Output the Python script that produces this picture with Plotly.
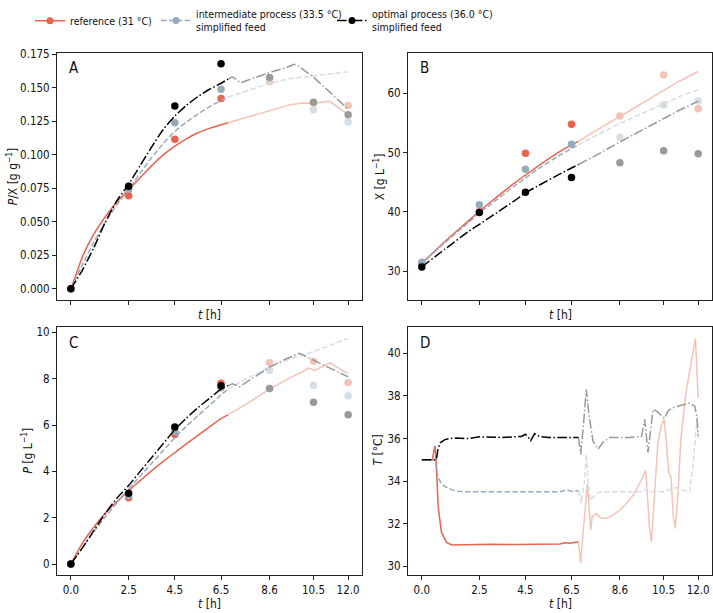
import plotly.graph_objects as go

# ---------------- data ----------------
t_samples = [0.0, 2.5, 4.5, 6.5, 8.6, 10.5, 12.0]
tick_vals = [0.0, 2.5, 4.5, 6.5, 8.6, 10.5, 12.0]
tick_text = ["0.0", "2.5", "4.5", "6.5", "8.6", "10.5", "12.0"]
t_split = 6.8          # end of the validated horizon (later part drawn faded)
n_bright = 4           # first four samples drawn bright

# Panel A: P/X measurements
pa_ref = [0.0, 0.0694, 0.1117, 0.142, 0.1546, 0.139, 0.1369]
pa_int = [0.0, 0.0743, 0.124, 0.149, 0.157, 0.1337, 0.1246]
pa_opt = [0.0, 0.0765, 0.1364, 0.168, 0.1578, 0.1393, 0.130]
# Panel B: X measurements
pb_ref = [31.3, 40.0, 49.9, 54.8, 56.2, 63.1, 57.4]
pb_int = [31.5, 41.2, 47.2, 51.4, 52.6, 58.1, 58.7]
pb_opt = [30.7, 39.9, 43.3, 45.8, 48.3, 50.3, 49.8]
# Panel C: P measurements
pc_ref = [0.0, 2.86, 5.59, 7.80, 8.69, 8.75, 7.84]
pc_int = [0.0, 2.95, 5.73, 7.61, 8.36, 7.72, 7.27]
pc_opt = [0.0, 3.06, 5.92, 7.70, 7.58, 6.98, 6.44]

# Panel A model curves
a_ref_t = [0, 0.25, 0.5, 1.0, 1.5, 2.0, 2.5, 3.0, 3.5, 4.0, 4.5, 5.0, 5.5, 6.0, 6.5, 6.8, 7.5, 8.6, 9.5, 10.0, 10.5, 11.2, 12.0]
a_ref = [0, 0.012, 0.024, 0.041, 0.054, 0.065, 0.074, 0.083, 0.092, 0.100, 0.1065, 0.112, 0.1165, 0.1198, 0.1225, 0.124, 0.1275, 0.1335, 0.1375, 0.1388, 0.1385, 0.140, 0.130]
a_int_t = [0, 0.5, 1, 1.5, 2, 2.5, 3, 3.5, 4, 4.5, 5, 5.5, 6, 6.5, 6.8, 7.5, 8.6, 9.5, 10.5, 11.2, 12]
a_int = [0, 0.018, 0.035, 0.050, 0.063, 0.074, 0.0865, 0.098, 0.1085, 0.1175, 0.1245, 0.1305, 0.136, 0.1405, 0.143, 0.147, 0.1535, 0.157, 0.159, 0.1605, 0.162]
a_opt_t = [0, 0.5, 1, 1.5, 2, 2.5, 3, 3.5, 4, 4.5, 5, 5.5, 6, 6.5, 6.8, 7.0, 7.35, 8.0, 8.6, 9.3, 9.65, 9.85, 10.5, 11.2, 12.0]
a_opt = [0, 0.014, 0.031, 0.050, 0.066, 0.078, 0.092, 0.106, 0.119, 0.129, 0.137, 0.1435, 0.149, 0.1535, 0.1565, 0.1583, 0.1539, 0.158, 0.1615, 0.165, 0.1676, 0.1664, 0.158, 0.147, 0.134]

# Panel B model curves
b_t = [0, 1, 2, 2.5, 3, 4, 4.5, 5, 6, 6.5, 6.8, 7.5, 8.6, 9.5, 10.5, 11.2, 12]
b_ref = [31.3, 35.0, 38.4, 40.1, 41.7, 44.8, 46.2, 47.6, 50.2, 51.3, 51.9, 53.6, 56.1, 58.2, 60.6, 62.1, 63.7]
b_int = [31.3, 34.8, 38.1, 39.8, 41.3, 44.3, 45.7, 47.1, 49.6, 50.7, 51.3, 52.8, 54.9, 56.5, 58.3, 59.5, 60.6]
b_opt = [30.7, 33.7, 36.6, 37.9, 39.2, 41.8, 43.2, 44.3, 46.4, 47.4, 48.0, 49.4, 51.8, 53.7, 55.8, 57.2, 58.7]

# Panel C model curves
c_ref_t = [0, 0.5, 1, 1.5, 2, 2.5, 3, 3.5, 4, 4.5, 5, 5.5, 6, 6.5, 6.8, 7.5, 8.6, 9.5, 10.0, 10.3, 10.55, 11.2, 12]
c_ref = [0, 0.9, 1.6, 2.2, 2.7, 3.17, 3.6, 4.03, 4.43, 4.81, 5.19, 5.55, 5.92, 6.28, 6.44, 6.85, 7.55, 8.05, 8.29, 8.46, 8.36, 8.68, 8.22]
c_int_t = [0, 0.5, 1, 1.5, 2, 2.5, 3, 3.5, 4, 4.5, 5, 5.5, 6, 6.5, 6.8, 7.5, 8.6, 9.5, 10.5, 11.2, 12]
c_int = [0, 0.7, 1.4, 2.05, 2.65, 3.24, 3.8, 4.35, 4.9, 5.45, 5.95, 6.4, 6.85, 7.30, 7.55, 7.95, 8.5, 8.85, 9.17, 9.45, 9.74]
c_opt_t = [0, 0.5, 1, 1.5, 2, 2.5, 3, 3.5, 4, 4.5, 5, 5.5, 6, 6.5, 6.8, 7.0, 7.3, 8.0, 8.6, 9.3, 9.9, 10.5, 11.2, 12]
c_opt = [0, 0.7, 1.45, 2.2, 2.85, 3.39, 4.0, 4.6, 5.2, 5.8, 6.3, 6.75, 7.15, 7.55, 7.7, 7.78, 7.65, 8.1, 8.5, 8.85, 9.1, 8.8, 8.45, 8.08]

# Panel D temperature profiles
d_ref_t = [0, 0.46, 0.52, 0.57, 0.62, 0.71, 0.85, 1.07, 1.3, 2.0, 3.0, 4.0, 5.0, 5.5, 6.0, 6.2, 6.4, 6.6, 6.8,
           6.9, 7.0, 7.12, 7.19, 7.26, 7.33, 7.4, 7.57, 7.79, 8.0, 8.3, 8.6, 8.94, 9.23, 9.52, 9.72, 9.81, 9.88, 9.97,
           10.1, 10.25, 10.4, 10.52, 10.62, 10.72, 10.82, 10.92, 11.0, 11.1, 11.25, 11.45, 11.7, 11.88, 12.0]
d_ref = [35.0, 35.0, 35.4, 35.65, 35.0, 32.8, 31.6, 31.12, 31.0, 31.02, 31.03, 31.02, 31.05, 31.06, 31.05, 31.1, 31.08, 31.12, 31.14,
         30.16, 31.55, 32.8, 33.87, 32.8, 31.7, 32.33, 32.48, 32.25, 32.25, 32.4, 32.64, 33.02, 33.41, 34.03, 34.5, 33.1, 31.86, 31.16,
         33.5, 35.8, 36.6, 36.9, 35.8, 34.4, 34.2, 32.3, 31.78, 33.0, 36.0, 38.0, 39.6, 40.7, 37.9]
d_int_t = [0, 0.55, 0.63, 0.7, 0.85, 1.0, 1.3, 1.6, 2, 3, 4, 5, 6, 6.3, 6.5, 6.8,
           6.92, 7.07, 7.14, 7.23, 7.32, 7.43, 7.72, 8.5, 9.5, 9.75, 9.9, 10.5, 11.05, 11.27, 11.63, 11.78, 11.9, 11.95, 12.0]
d_int = [35.0, 35.0, 34.7, 34.2, 33.88, 33.75, 33.6, 33.52, 33.5, 33.5, 33.5, 33.52, 33.5, 33.58, 33.52, 33.55,
         32.95, 34.03, 35.27, 33.87, 33.1, 33.25, 33.49, 33.5, 33.5, 33.6, 33.5, 33.5, 33.7, 33.6, 33.5, 34.8, 36.4, 37.0, 36.0]
d_opt_t = [0, 0.63, 0.7, 0.8, 1.0, 1.2, 1.5, 2.0, 2.5, 3.0, 3.5, 4.0, 4.33, 4.5, 4.6, 4.73, 4.9, 5.1, 5.5, 6.0, 6.5, 6.8,
           6.9, 7.03, 7.14, 7.26, 7.43, 7.65, 7.87, 8.16, 8.6, 9.0, 9.54, 9.68, 9.82, 9.97, 10.04, 10.18, 10.4, 10.54,
           10.69, 10.9, 11.12, 11.41, 11.63, 11.85, 11.95, 12.0]
d_opt = [35.0, 35.0, 35.5, 35.8, 35.95, 36.0, 36.02, 36.0, 36.08, 36.05, 36.05, 36.08, 36.1, 36.2, 36.1, 35.9, 36.23, 36.1, 36.05, 36.05, 36.05, 36.05,
         35.27, 36.8, 38.3, 37.1, 35.89, 35.5, 35.82, 36.05, 36.05, 36.05, 36.1, 36.9, 35.35, 36.84, 37.37, 37.3, 37.06, 36.95,
         37.3, 37.45, 37.52, 37.6, 37.67, 37.52, 36.98, 36.12]

legend_names = ["reference (31 °C)",
                "intermediate process (33.5 °C)<br>simplified feed",
                "optimal process (36.0 °C)<br>simplified feed"]

# ---------------- style ----------------
BRIGHT = ["#e9634e", "#95abbb", "#000000"]
FADED = ["#f3c4b6", "#d5dee5", "#9a9a9a"]
DASH = ["solid", "5.5px,2.4px", "9.6px,2.4px,1.5px,2.4px"]
FONT = "DejaVu Sans Condensed, Lato, sans-serif"
LW = 1.5

fig = go.Figure()

panels = {
    "A": dict(xa="x", ya="y"),
    "B": dict(xa="x2", ya="y2"),
    "C": dict(xa="x3", ya="y3"),
    "D": dict(xa="x4", ya="y4"),
}

def add_curve(p, t, v, i, shape):
    xa, ya = panels[p]["xa"], panels[p]["ya"]
    te = [a for a in t if a <= t_split]
    ve = [b for a, b in zip(t, v) if a <= t_split]
    tl = [a for a in t if a >= t_split]
    vl = [b for a, b in zip(t, v) if a >= t_split]
    fig.add_trace(go.Scatter(x=tl, y=vl, mode="lines", xaxis=xa, yaxis=ya, showlegend=False,
                             line=dict(color=FADED[i], width=LW, dash=DASH[i], shape="linear"),
                             hoverinfo="skip"))
    fig.add_trace(go.Scatter(x=te, y=ve, mode="lines", xaxis=xa, yaxis=ya, showlegend=False,
                             line=dict(color=BRIGHT[i], width=LW, dash=DASH[i], shape=shape, smoothing=0.6),
                             hoverinfo="skip"))

def add_points(p, v, i):
    xa, ya = panels[p]["xa"], panels[p]["ya"]
    fig.add_trace(go.Scatter(x=t_samples[n_bright:], y=v[n_bright:], mode="markers", xaxis=xa, yaxis=ya,
                             showlegend=False, marker=dict(color=FADED[i], size=7.5, line=dict(width=0))))
    fig.add_trace(go.Scatter(x=t_samples[:n_bright], y=v[:n_bright], mode="markers", xaxis=xa, yaxis=ya,
                             showlegend=False, marker=dict(color=BRIGHT[i], size=7.5, line=dict(width=0))))

curves = {
    "A": [(a_ref_t, a_ref), (a_int_t, a_int), (a_opt_t, a_opt)],
    "B": [(b_t, b_ref), (b_t, b_int), (b_t, b_opt)],
    "C": [(c_ref_t, c_ref), (c_int_t, c_int), (c_opt_t, c_opt)],
    "D": [(d_ref_t, d_ref), (d_int_t, d_int), (d_opt_t, d_opt)],
}
points = {"A": [pa_ref, pa_int, pa_opt], "B": [pb_ref, pb_int, pb_opt], "C": [pc_ref, pc_int, pc_opt]}

for p in ["A", "B", "C", "D"]:
    for i in range(3):
        t, v = curves[p][i]
        shape = "linear" if p == "D" else "spline"
        add_curve(p, t, v, i, shape)
        if p in points:
            add_points(p, points[p][i], i)

# legend entries: one small legend per entry so that each is centred on the same row
legend_ids = ["legend", "legend2", "legend3"]
for i in range(3):
    fig.add_trace(go.Scatter(x=[None], y=[None], mode="lines+markers", name=legend_names[i],
                             legend=legend_ids[i],
                             line=dict(color=BRIGHT[i], width=LW, dash=DASH[i]),
                             marker=dict(color=BRIGHT[i], size=7)))

W, H = 713, 613
def fx(px):
    return px / W
def fy(py):
    return 1 - py / H

xdomA = [fx(57), fx(362)]
xdomB = [fx(408), fx(712)]
ydomT = [fy(297), fy(47)]
ydomB = [fy(575), fy(324)]

axis_common = dict(showline=True, mirror=True, linecolor="#222", linewidth=1, ticks="outside",
                   ticklen=4, tickwidth=1, tickcolor="#222", showgrid=False, zeroline=False,
                   tickfont=dict(family=FONT, size=11.5, color="#111"), automargin=False)

xcommon = dict(axis_common, range=[-0.6, 12.6], tickvals=tick_vals, ticktext=tick_text)

def legend_at(px_x):
    return dict(orientation="h", x=fx(px_x), xanchor="left", y=fy(15), yanchor="middle",
                font=dict(family=FONT, size=10.5, color="#111"), bgcolor="rgba(0,0,0,0)",
                itemwidth=30, valign="middle")

fig.update_layout(
    width=W, height=H, margin=dict(l=0, r=0, t=0, b=0),
    paper_bgcolor="white", plot_bgcolor="white",
    font=dict(family=FONT, size=11.5, color="#111"),
    xaxis=dict(xcommon, domain=xdomA, anchor="y", showticklabels=False),
    yaxis=dict(axis_common, domain=ydomT, anchor="x", range=[-0.0084, 0.1764],
               tickvals=[0, 0.025, 0.05, 0.075, 0.1, 0.125, 0.15, 0.175], tickformat=".3f"),
    xaxis2=dict(xcommon, domain=xdomB, anchor="y2", showticklabels=False),
    yaxis2=dict(axis_common, domain=ydomT, anchor="x2", range=[25.1, 66.9], tickvals=[30, 40, 50, 60]),
    xaxis3=dict(xcommon, domain=xdomA, anchor="y3"),
    yaxis3=dict(axis_common, domain=ydomB, anchor="x3", range=[-0.49, 10.24], tickvals=[0, 2, 4, 6, 8, 10]),
    xaxis4=dict(xcommon, domain=xdomB, anchor="y4"),
    yaxis4=dict(axis_common, domain=ydomB, anchor="x4", range=[29.57, 41.25], tickvals=[30, 32, 34, 36, 38, 40]),
    legend=legend_at(30),
    legend2=legend_at(156),
    legend3=legend_at(332),
    showlegend=True,
)

ann = []
# panel letters
for p, x0, yt in [("A", 67, 63), ("B", 418, 63), ("C", 67, 340), ("D", 418, 340)]:
    ann.append(dict(text=p, x=fx(x0), y=fy(yt), xref="paper", yref="paper", xanchor="left", yanchor="middle",
                    showarrow=False, font=dict(family=FONT, size=15, color="#111")))
# x titles
for xc, yc in [(209.5, 312), (560, 312), (209.5, 604), (560, 604)]:
    ann.append(dict(text="<i>t</i> [h]", x=fx(xc), y=fy(yc), xref="paper", yref="paper", xanchor="center",
                    yanchor="middle", showarrow=False, font=dict(family=FONT, size=12, color="#111")))
# y titles
ytitles = [("<i>P</i>/X [g g<sup>−1</sup>]", 12, 172), ("X [g L<sup>−1</sup>]", 379, 172),
           ("<i>P</i> [g L<sup>−1</sup>]", 27, 449), ("<i>T</i> [°C]", 378, 449)]
for txt, xc, yc in ytitles:
    ann.append(dict(text=txt, x=fx(xc), y=fy(yc), xref="paper", yref="paper", xanchor="center", yanchor="middle",
                    textangle=-90, showarrow=False, font=dict(family=FONT, size=12, color="#111")))
fig.update_layout(annotations=ann)

fig.write_html("out.html", post_script="document.body.style.margin='0';",
               config={"displayModeBar": False})
